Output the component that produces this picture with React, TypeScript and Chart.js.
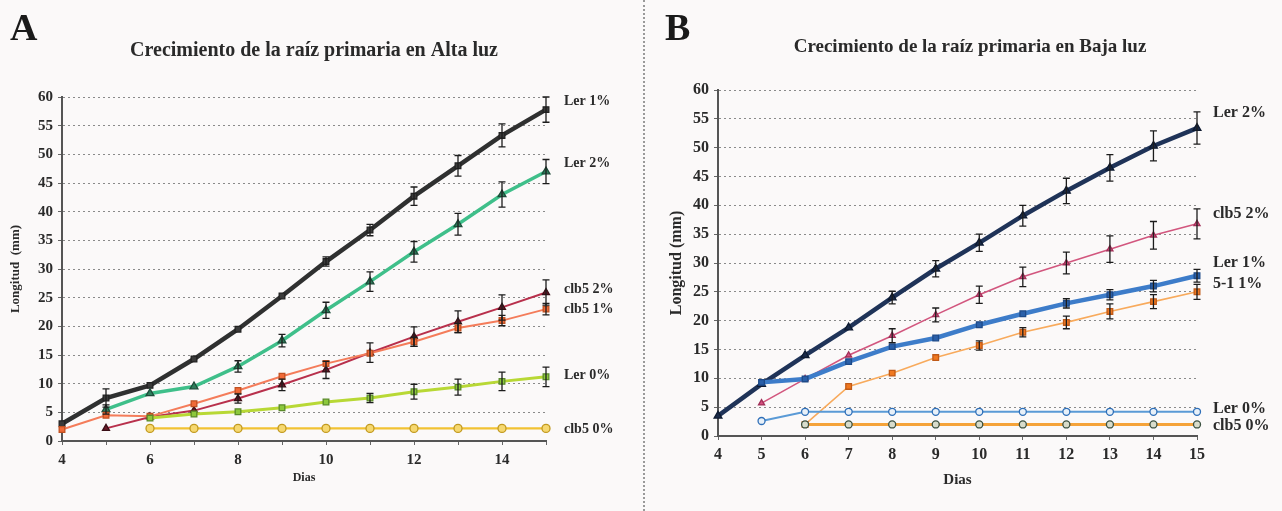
import React, { useEffect, useRef } from 'react';
import { Chart, registerables } from 'chart.js';
Chart.register(...registerables);

// ---------- data ----------
const DAYS = [4, 5, 6, 7, 8, 9, 10, 11, 12, 13, 14, 15];

// Panel A – Alta luz
const A_LER1 = [3.0, 7.5, 9.7, 14.3, 19.5, 25.3, 31.3, 36.8, 42.7, 48.0, 53.3, 57.8];
const A_LER1_ERR = [0.3, 1.6, 0.6, 0.5, 0.5, 0.6, 0.8, 1.0, 1.6, 1.8, 2.0, 2.2];
const A_LER2 = [null, 5.5, 8.3, 9.5, 13.0, 17.5, 22.8, 27.8, 33.0, 37.8, 43.0, 47.0];
const A_LER2_ERR = [null, 0.8, 0.5, 0.6, 1.0, 1.1, 1.4, 1.7, 1.8, 1.9, 2.2, 2.1];
const A_CLB2 = [null, 2.2, 4.2, 5.3, 7.4, 9.8, 12.4, 15.4, 18.2, 20.8, 23.3, 25.9];
const A_CLB2_ERR = [null, 0.3, 0.4, 0.5, 0.8, 1.0, 1.5, 1.7, 1.7, 1.9, 2.2, 2.2];
const A_CLB1 = [2.0, 4.5, 4.3, 6.5, 8.8, 11.3, 13.5, 15.3, 17.3, 19.7, 21.0, 23.0];
const A_CLB1_ERR = [0.3, 0.4, 0.4, 0.5, 0.5, 0.6, 0.6, 0.7, 0.8, 0.8, 0.9, 1.0];
const A_LER0 = [null, null, 4.0, 4.7, 5.1, 5.8, 6.8, 7.5, 8.6, 9.4, 10.4, 11.2];
const A_LER0_ERR = [null, null, 0.3, 0.3, 0.4, 0.5, 0.6, 0.8, 1.3, 1.4, 1.6, 1.7];
const A_CLB0 = [null, null, 2.2, 2.2, 2.2, 2.2, 2.2, 2.2, 2.2, 2.2, 2.2, 2.2];
const A_CLB0_ERR = [null, null, 0.2, 0.2, 0.2, 0.2, 0.2, 0.2, 0.2, 0.2, 0.2, 0.2];
const A_LABELS = ['Ler 1%', 'Ler 2%', 'clb5 2%', 'clb5 1%', 'Ler 0%', 'clb5 0%'];
const A_LABEL_Y = [59.3, 48.5, 26.5, 22.9, 11.5, 2.1];

// Panel B – Baja luz
const B_LER2 = [3.5, 9.0, 14.0, 18.8, 24.0, 29.0, 33.5, 38.2, 42.5, 46.5, 50.3, 53.4];
const B_LER2_ERR = [0.3, 0.6, 0.5, 0.7, 1.1, 1.4, 1.5, 1.8, 2.2, 2.3, 2.6, 2.8];
const B_CLB2 = [null, 5.7, 9.9, 14.0, 17.4, 21.0, 24.5, 27.6, 30.0, 32.4, 34.8, 36.8];
const B_CLB2_ERR = [null, 0.4, 0.4, 0.7, 1.2, 1.2, 1.5, 1.7, 1.9, 2.3, 2.4, 2.6];
const B_LER1 = [null, 9.3, 9.9, 12.9, 15.5, 17.0, 19.3, 21.2, 23.0, 24.5, 26.0, 27.8];
const B_LER1_ERR = [null, 0.4, 0.4, 0.5, 0.5, 0.5, 0.5, 0.6, 0.8, 0.9, 1.0, 1.1];
const B_511 = [null, null, 2.0, 8.6, 10.9, 13.6, 15.7, 18.0, 19.7, 21.6, 23.3, 25.0];
const B_511_ERR = [null, null, 0.3, 0.5, 0.5, 0.6, 0.8, 0.8, 1.1, 1.3, 1.2, 1.3];
const B_LER0 = [null, 2.6, 4.2, 4.2, 4.2, 4.2, 4.2, 4.2, 4.2, 4.2, 4.2, 4.2];
const B_LER0_ERR = [null, 0.2, 0.2, 0.2, 0.2, 0.2, 0.2, 0.2, 0.2, 0.2, 0.2, 0.2];
const B_CLB0 = [null, null, 2.0, 2.0, 2.0, 2.0, 2.0, 2.0, 2.0, 2.0, 2.0, 2.0];
const B_CLB0_ERR = [null, null, 0.2, 0.2, 0.2, 0.2, 0.2, 0.2, 0.2, 0.2, 0.2, 0.2];
const B_LABELS = ['Ler 2%', 'clb5 2%', 'Ler 1%', '5-1 1%', 'Ler 0%', 'clb5 0%'];
const B_LABEL_Y = [56.0, 38.6, 30.0, 26.3, 4.7, 1.7];

const Y_TICKS_MAX = 60;
const Y_TICK_STEP = 5;

// ---------- helpers ----------
const SERIF = "'Liberation Serif', 'Times New Roman', serif";
const TEXT = '#2a2a2a';

function series(label, vals, errs, color, width, pointStyle, bg, border, radius = 4) {
  const data = [];
  const errorBars = [];
  DAYS.forEach((d, i) => {
    if (vals[i] == null) return;
    data.push({ x: d, y: vals[i] });
    errorBars.push(errs[i]);
  });
  return {
    label,
    data,
    errorBars,
    borderColor: color,
    borderWidth: width,
    backgroundColor: bg,
    pointBackgroundColor: bg,
    pointBorderColor: border,
    pointBorderWidth: 1.3,
    pointStyle,
    pointRadius: radius,
    tension: 0,
    clip: false,
  };
}

const errorBarPlugin = {
  id: 'errorBars',
  afterDatasetsDraw(chart) {
    const ctx = chart.ctx;
    const yScale = chart.scales.y;
    chart.data.datasets.forEach((ds, di) => {
      const errs = ds.errorBars;
      if (!errs) return;
      const meta = chart.getDatasetMeta(di);
      ctx.save();
      ctx.strokeStyle = '#1c1c1c';
      ctx.lineWidth = 1.3;
      meta.data.forEach((pt, i) => {
        const e = errs[i];
        const raw = ds.data[i];
        if (!e || !raw) return;
        const top = yScale.getPixelForValue(raw.y + e);
        const bot = yScale.getPixelForValue(raw.y - e);
        if (bot - top < 9) return;
        ctx.beginPath();
        ctx.moveTo(pt.x, top);
        ctx.lineTo(pt.x, bot);
        ctx.moveTo(pt.x - 3.5, top);
        ctx.lineTo(pt.x + 3.5, top);
        ctx.moveTo(pt.x - 3.5, bot);
        ctx.lineTo(pt.x + 3.5, bot);
        ctx.stroke();
      });
      ctx.restore();
    });
  },
};

const endLabelPlugin = {
  id: 'endLabels',
  afterDraw(chart, _args, opts) {
    if (!opts || !opts.labels) return;
    const ctx = chart.ctx;
    const yScale = chart.scales.y;
    ctx.save();
    ctx.fillStyle = TEXT;
    ctx.font = `bold ${opts.size}px ${SERIF}`;
    ctx.textAlign = 'left';
    ctx.textBaseline = 'middle';
    opts.labels.forEach((t, i) => {
      ctx.fillText(t, chart.chartArea.right + opts.offset, yScale.getPixelForValue(opts.ys[i]));
    });
    ctx.restore();
  },
};

// panel letter + centred heading drawn on the canvas as real text
const headingPlugin = {
  id: 'heading',
  afterDraw(chart, _args, opts) {
    if (!opts) return;
    const ctx = chart.ctx;
    ctx.save();
    ctx.fillStyle = '#1a1a1a';
    ctx.font = `bold ${opts.letterSize}px ${SERIF}`;
    ctx.textAlign = 'left';
    ctx.textBaseline = 'alphabetic';
    ctx.fillText(opts.letter, opts.letterX, opts.letterY);
    ctx.fillStyle = TEXT;
    ctx.font = `bold ${opts.titleSize}px ${SERIF}`;
    ctx.textAlign = 'center';
    ctx.textBaseline = 'middle';
    ctx.fillText(opts.title, opts.titleX, opts.titleY);
    ctx.restore();
  },
};

function makeConfig(p) {
  return {
    type: 'line',
    data: { datasets: p.datasets },
    plugins: [errorBarPlugin, endLabelPlugin, headingPlugin],
    options: {
      responsive: false,
      animation: false,
      devicePixelRatio: 1,
      layout: { padding: { left: 0, right: p.rightPad, top: p.topPad, bottom: 0 } },
      plugins: {
        legend: { display: false },
        tooltip: { enabled: false },
        title: { display: false },
        endLabels: { labels: p.labels, ys: p.labelYs, offset: p.labelOffset, size: p.labelSize },
        heading: {
          letter: p.letter, letterX: p.letterX, letterY: 40, letterSize: 38,
          title: p.title, titleX: p.titleX, titleY: p.titleY, titleSize: p.titleSize,
        },
      },
      scales: {
        x: {
          type: 'linear',
          min: DAYS[0],
          max: DAYS[DAYS.length - 1],
          afterFit: (s) => { s.height = p.xHeight; },
          border: { display: true, color: '#555', width: 2 },
          grid: { drawOnChartArea: false, drawTicks: true, tickLength: 4, color: '#666' },
          ticks: {
            stepSize: 1,
            autoSkip: false,
            maxRotation: 0,
            padding: p.xTickPad,
            color: TEXT,
            font: { family: SERIF, size: p.tickSize, weight: 'bold' },
            callback: (v) => (p.evenOnly && v % 2 !== 0 ? '' : String(v)),
          },
          title: {
            display: true,
            text: 'Dias',
            color: TEXT,
            font: { family: SERIF, size: p.xTitleSize, weight: 'bold' },
            padding: { top: 0, bottom: p.xTitleBottom },
          },
        },
        y: {
          min: 0,
          max: Y_TICKS_MAX,
          afterFit: (s) => { s.width = p.yWidth; },
          border: { display: true, color: '#555', width: 2, dash: [2, 3] },
          grid: {
            color: '#8a8a8a',
            lineWidth: 1,
            drawTicks: true,
            tickLength: 4,
            tickColor: '#666',
            tickBorderDash: [],
          },
          ticks: {
            stepSize: Y_TICK_STEP,
            padding: 5,
            color: TEXT,
            font: { family: SERIF, size: p.tickSize, weight: 'bold' },
          },
          title: {
            display: true,
            text: p.yTitle,
            color: TEXT,
            font: { family: SERIF, size: p.yTitleSize, weight: 'bold' },
            padding: { top: p.yTitleTop, bottom: 0 },
          },
        },
      },
    },
  };
}

function ChartCanvas({ config, width, height, left }) {
  const ref = useRef(null);
  useEffect(() => {
    const chart = new Chart(ref.current, config);
    return () => chart.destroy();
  }, []);
  return (
    <canvas
      ref={ref}
      width={width}
      height={height}
      style={{ position: 'absolute', left, top: 0, width, height }}
    />
  );
}

export default function App() {
  const configA = makeConfig({
    title: 'Crecimiento de la raíz primaria en Alta luz',
    titleSize: 20,
    titleX: 314,
    titleY: 51,
    topPad: 97,
    rightPad: 82,
    yWidth: 62,
    xHeight: 70,
    tickSize: 15,
    xTickPad: 6,
    evenOnly: true,
    xTitleSize: 12,
    xTitleBottom: 26,
    yTitle: 'Longitud  (mm)',
    yTitleSize: 13,
    yTitleTop: 8,
    labels: A_LABELS,
    labelYs: A_LABEL_Y,
    labelOffset: 18,
    labelSize: 14,
    letter: 'A',
    letterX: 10,
    datasets: [
      series('clb5 0%', A_CLB0, A_CLB0_ERR, '#f2c232', 2.2, 'circle', '#f6d870', '#c29a20', 4),
      series('Ler 0%', A_LER0, A_LER0_ERR, '#b8d835', 3, 'rect', '#8cc83c', '#5a8a2a', 4),
      series('clb5 1%', A_CLB1, A_CLB1_ERR, '#f47c5a', 2, 'rect', '#f06a38', '#c05020', 4),
      series('clb5 2%', A_CLB2, A_CLB2_ERR, '#b8304c', 2, 'triangle', '#6a1a28', '#3a0e16', 4),
      series('Ler 2%', A_LER2, A_LER2_ERR, '#3fbf8a', 3.5, 'triangle', '#2e7d5b', '#1d4a38', 4.5),
      series('Ler 1%', A_LER1, A_LER1_ERR, '#2f3030', 4.5, 'rect', '#3a3a3a', '#222', 4),
    ],
  });
  const configB = makeConfig({
    title: 'Crecimiento de la raíz primaria en Baja luz',
    titleSize: 19,
    titleX: 310,
    titleY: 47,
    topPad: 90,
    rightPad: 83,
    yWidth: 58,
    xHeight: 75,
    tickSize: 16,
    xTickPad: 5,
    evenOnly: false,
    xTitleSize: 15,
    xTitleBottom: 22,
    yTitle: 'Longitud (mm)',
    yTitleSize: 16,
    yTitleTop: 7,
    labels: B_LABELS,
    labelYs: B_LABEL_Y,
    labelOffset: 16,
    labelSize: 16,
    letter: 'B',
    letterX: 5,
    datasets: [
      series('clb5 0%', B_CLB0, B_CLB0_ERR, '#f5a33a', 3, 'circle', '#d8dccb', '#3a5040', 3.5),
      series('Ler 0%', B_LER0, B_LER0_ERR, '#5a9ad6', 2, 'circle', '#e8f0f8', '#2f6fb8', 3.5),
      series('5-1 1%', B_511, B_511_ERR, '#f8aa5c', 1.6, 'rect', '#f07820', '#c05a18', 4),
      series('Ler 1%', B_LER1, B_LER1_ERR, '#3d7cc9', 4.5, 'rect', '#2a5fa8', '#1e4a88', 4),
      series('clb5 2%', B_CLB2, B_CLB2_ERR, '#d2567e', 1.6, 'triangle', '#d85080', '#a03058', 3.5),
      series('Ler 2%', B_LER2, B_LER2_ERR, '#1f3358', 4.5, 'triangle', '#1a2a48', '#0e1a30', 4.5),
    ],
  });
  return (
    <div style={{ position: 'absolute', left: 0, top: 0, width: 1282, height: 511, background: '#fbf9f9', overflow: 'hidden' }}>
      <ChartCanvas config={configA} width={628} height={511} left={0} />
      <div style={{ position: 'absolute', left: 643, top: 0, width: 0, height: 511, borderLeft: '2px dotted #9a9a9a' }} />
      <ChartCanvas config={configB} width={620} height={511} left={660} />
    </div>
  );
}
